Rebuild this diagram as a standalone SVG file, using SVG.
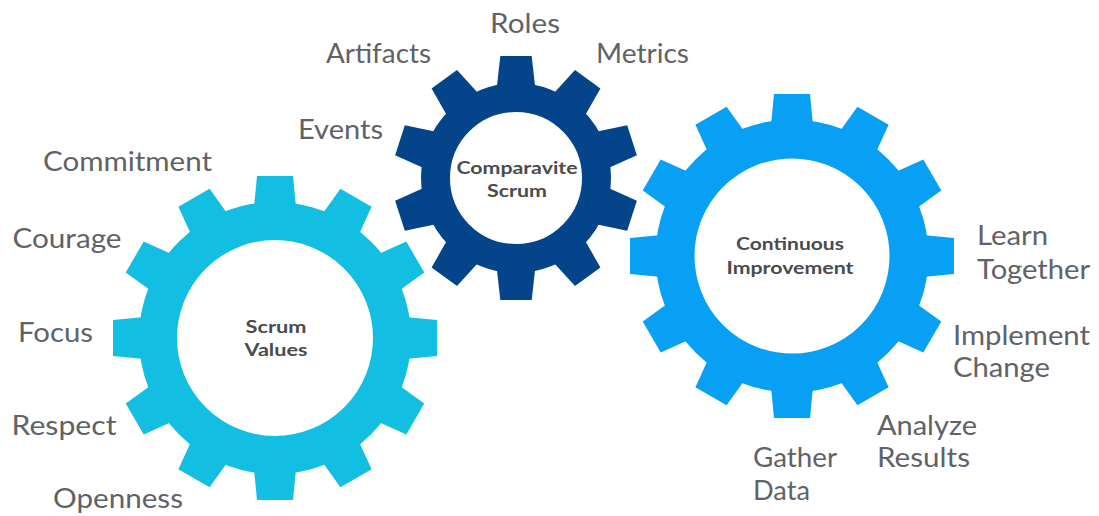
<svg xmlns="http://www.w3.org/2000/svg" xmlns:xlink="http://www.w3.org/1999/xlink" width="1099" height="516" viewBox="0 0 1099 516">
  <style>
    .lbl { font-family: Lato, "Open Sans", "Liberation Sans", sans-serif; font-size: 26px; fill: #616266; }
    .hub { font-family: Lato, "Open Sans", "Liberation Sans", sans-serif; font-size: 16.5px; font-weight: bold; fill: #4a4b4e; text-anchor: middle; }
    .ring { fill: none; }
  </style>
  <defs>
    <!-- single teeth, pointing up from the gear centre -->
    <polygon id="toothL" points="-21.3,-128 -18,-162 18,-162 21.3,-128"/>
    <polygon id="toothM" points="-19.5,-88 -15.7,-122 15.7,-122 19.5,-88"/>
  </defs>

  <rect width="1099" height="516" fill="#ffffff"/>

  <!-- Scrum Values gear -->
  <g id="gear-scrum-values" fill="#13bee3">
    <g transform="translate(275,338)">
      <circle class="ring" r="117" stroke="#13bee3" stroke-width="38"/>
      <use xlink:href="#toothL"/>
      <use xlink:href="#toothL" transform="rotate(30)"/>
      <use xlink:href="#toothL" transform="rotate(60)"/>
      <use xlink:href="#toothL" transform="rotate(90)"/>
      <use xlink:href="#toothL" transform="rotate(120)"/>
      <use xlink:href="#toothL" transform="rotate(150)"/>
      <use xlink:href="#toothL" transform="rotate(180)"/>
      <use xlink:href="#toothL" transform="rotate(210)"/>
      <use xlink:href="#toothL" transform="rotate(240)"/>
      <use xlink:href="#toothL" transform="rotate(270)"/>
      <use xlink:href="#toothL" transform="rotate(300)"/>
      <use xlink:href="#toothL" transform="rotate(330)"/>
    </g>
    <text class="hub" x="276" y="332.5" textLength="61" lengthAdjust="spacingAndGlyphs">Scrum</text>
    <text class="hub" x="276" y="356" textLength="63" lengthAdjust="spacingAndGlyphs">Values</text>
  </g>

  <!-- Comparavite Scrum gear -->
  <g id="gear-comparavite-scrum" fill="#04448a">
    <g transform="translate(516,178)">
      <circle class="ring" r="80.5" stroke="#04448a" stroke-width="29"/>
      <use xlink:href="#toothM"/>
      <use xlink:href="#toothM" transform="rotate(36)"/>
      <use xlink:href="#toothM" transform="rotate(72)"/>
      <use xlink:href="#toothM" transform="rotate(108)"/>
      <use xlink:href="#toothM" transform="rotate(144)"/>
      <use xlink:href="#toothM" transform="rotate(180)"/>
      <use xlink:href="#toothM" transform="rotate(216)"/>
      <use xlink:href="#toothM" transform="rotate(252)"/>
      <use xlink:href="#toothM" transform="rotate(288)"/>
      <use xlink:href="#toothM" transform="rotate(324)"/>
    </g>
    <text class="hub" x="517" y="174" textLength="121" lengthAdjust="spacingAndGlyphs">Comparavite</text>
    <text class="hub" x="517" y="196.5" textLength="60" lengthAdjust="spacingAndGlyphs">Scrum</text>
  </g>

  <!-- Continuous Improvement gear -->
  <g id="gear-continuous-improvement" fill="#08a0f4">
    <g transform="translate(792,256)">
      <circle class="ring" r="117" stroke="#08a0f4" stroke-width="39"/>
      <use xlink:href="#toothL"/>
      <use xlink:href="#toothL" transform="rotate(30)"/>
      <use xlink:href="#toothL" transform="rotate(60)"/>
      <use xlink:href="#toothL" transform="rotate(90)"/>
      <use xlink:href="#toothL" transform="rotate(120)"/>
      <use xlink:href="#toothL" transform="rotate(150)"/>
      <use xlink:href="#toothL" transform="rotate(180)"/>
      <use xlink:href="#toothL" transform="rotate(210)"/>
      <use xlink:href="#toothL" transform="rotate(240)"/>
      <use xlink:href="#toothL" transform="rotate(270)"/>
      <use xlink:href="#toothL" transform="rotate(300)"/>
      <use xlink:href="#toothL" transform="rotate(330)"/>
    </g>
    <text class="hub" x="790" y="250" textLength="108" lengthAdjust="spacingAndGlyphs">Continuous</text>
    <text class="hub" x="790" y="273.5" textLength="127" lengthAdjust="spacingAndGlyphs">Improvement</text>
  </g>

  <!-- value labels round the Scrum Values gear -->
  <g id="labels-values">
    <text class="lbl" x="43" y="171" textLength="169" lengthAdjust="spacingAndGlyphs">Commitment</text>
    <text class="lbl" x="12.5" y="248" textLength="109" lengthAdjust="spacingAndGlyphs">Courage</text>
    <text class="lbl" x="18" y="341.5" textLength="75" lengthAdjust="spacingAndGlyphs">Focus</text>
    <text class="lbl" x="11.5" y="435" textLength="105" lengthAdjust="spacingAndGlyphs">Respect</text>
    <text class="lbl" x="53" y="507.5" textLength="130" lengthAdjust="spacingAndGlyphs">Openness</text>
  </g>

  <!-- labels round the Comparavite Scrum gear -->
  <g id="labels-scrum">
    <text class="lbl" x="490" y="33" textLength="70" lengthAdjust="spacingAndGlyphs">Roles</text>
    <text class="lbl" x="326" y="63" textLength="105" lengthAdjust="spacingAndGlyphs">Artifacts</text>
    <text class="lbl" x="596" y="63" textLength="93" lengthAdjust="spacingAndGlyphs">Metrics</text>
    <text class="lbl" x="298" y="138.5" textLength="85" lengthAdjust="spacingAndGlyphs">Events</text>
  </g>

  <!-- labels round the Continuous Improvement gear -->
  <g id="labels-improvement">
    <text class="lbl" x="977" y="245" textLength="71" lengthAdjust="spacingAndGlyphs">Learn</text>
    <text class="lbl" x="977" y="278.5" textLength="113" lengthAdjust="spacingAndGlyphs">Together</text>
    <text class="lbl" x="953" y="345" textLength="137" lengthAdjust="spacingAndGlyphs">Implement</text>
    <text class="lbl" x="953" y="377" textLength="97" lengthAdjust="spacingAndGlyphs">Change</text>
    <text class="lbl" x="877" y="435" textLength="100" lengthAdjust="spacingAndGlyphs">Analyze</text>
    <text class="lbl" x="877" y="467" textLength="93" lengthAdjust="spacingAndGlyphs">Results</text>
    <text class="lbl" x="753" y="467" textLength="84" lengthAdjust="spacingAndGlyphs">Gather</text>
    <text class="lbl" x="753" y="500" textLength="57" lengthAdjust="spacingAndGlyphs">Data</text>
  </g>
</svg>
